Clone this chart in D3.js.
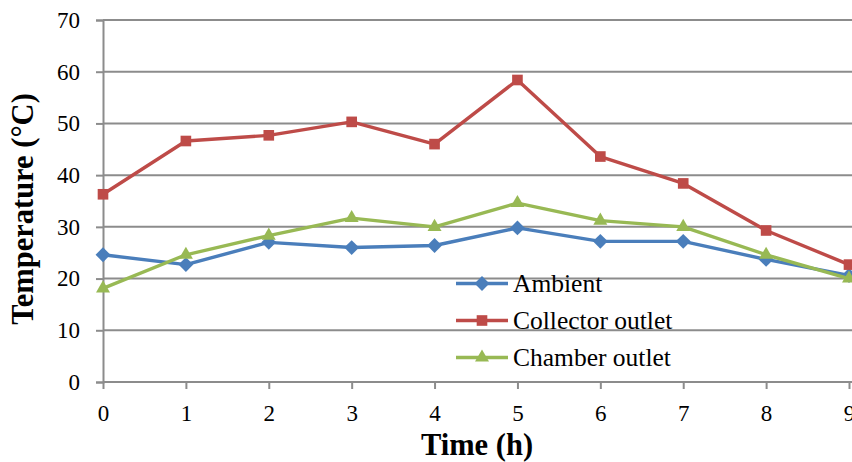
<!DOCTYPE html>
<html>
<head>
<meta charset="utf-8">
<script src="https://cdn.jsdelivr.net/npm/d3@7"></script>
<style>
  html, body { margin: 0; padding: 0; background: #fff; }
  svg { display: block; }
  text { font-family: "Liberation Serif", "Times New Roman", serif; fill: #000; }
</style>
</head>
<body>
<svg id="chart" width="852" height="462"></svg>
<script>
// Hourly temperatures (°C)
const hours = [0, 1, 2, 3, 4, 5, 6, 7, 8, 9];
const ambient = [24.6, 22.7, 27.0, 26.0, 26.4, 29.8, 27.2, 27.2, 23.7, 20.6];
const collectorOutlet = [36.3, 46.6, 47.7, 50.3, 46.0, 58.4, 43.6, 38.4, 29.3, 22.7];
const chamberOutlet = [18.1, 24.6, 28.3, 31.7, 30.0, 34.6, 31.2, 30.0, 24.6, 20.0];
const yTicks = [0, 10, 20, 30, 40, 50, 60, 70];
const seriesNames = ["Ambient", "Collector outlet", "Chamber outlet"];

const series = [
  { name: seriesNames[0], values: ambient, color: "#4a7ebb", symbol: d3.symbolDiamond2, size: 140 },
  { name: seriesNames[1], values: collectorOutlet, color: "#be4b48", symbol: d3.symbolSquare2, size: 144 },
  { name: seriesNames[2], values: chamberOutlet, color: "#98b954", symbol: d3.symbolTriangle2, size: 140 }
];

const svg = d3.select("#chart");
const plotLeft = 103, plotRight = 849, plotTop = 20, plotBottom = 382;

const x = d3.scaleLinear().domain([0, 9]).range([plotLeft, plotRight]);
const y = d3.scaleLinear().domain([0, 70]).range([plotBottom, plotTop]);

// Horizontal gridlines
svg.append("g")
  .selectAll("line")
  .data(yTicks.filter(t => t > 0))
  .join("line")
  .attr("x1", plotLeft).attr("x2", 852)
  .attr("y1", d => y(d)).attr("y2", d => y(d))
  .attr("stroke", "#8c8c8c").attr("stroke-width", 2);

// Y axis
const yAxis = svg.append("g")
  .attr("transform", `translate(${plotLeft},0)`)
  .call(d3.axisLeft(y).tickValues(yTicks).tickSize(7).tickPadding(16).tickFormat(d3.format("d")));
yAxis.select(".domain").attr("stroke", "#8c8c8c").attr("stroke-width", 2);
yAxis.selectAll(".tick line").attr("stroke", "#8c8c8c").attr("stroke-width", 2);
yAxis.selectAll(".tick text").attr("font-size", 23).attr("font-family", "Liberation Serif").attr("fill", "#000");

// X axis
const xAxis = svg.append("g")
  .attr("transform", `translate(0,${plotBottom})`)
  .call(d3.axisBottom(x).tickValues(hours).tickSize(7).tickPadding(16).tickFormat(d3.format("d")));
xAxis.select(".domain").attr("stroke", "#8c8c8c").attr("stroke-width", 2)
  .attr("d", `M${plotLeft},0H852`);
xAxis.selectAll(".tick line").attr("stroke", "#8c8c8c").attr("stroke-width", 2);
xAxis.selectAll(".tick text").attr("font-size", 23).attr("font-family", "Liberation Serif").attr("fill", "#000");

// Series lines and markers
const line = d3.line().x((d, i) => x(hours[i])).y(d => y(d));
series.forEach(s => {
  svg.append("path")
    .attr("d", line(s.values))
    .attr("fill", "none")
    .attr("stroke", s.color)
    .attr("stroke-width", 3.4)
    .attr("stroke-linejoin", "round");
  svg.append("g")
    .selectAll("path")
    .data(s.values)
    .join("path")
    .attr("transform", (d, i) => `translate(${x(hours[i])},${y(d)})`)
    .attr("d", d3.symbol().type(s.symbol).size(s.size))
    .attr("fill", s.color);
});

// Legend
const legend = svg.append("g").attr("transform", "translate(456,283.5)");
series.forEach((s, i) => {
  const row = legend.append("g").attr("transform", `translate(0,${i * 37})`);
  row.append("line")
    .attr("x1", 0).attr("x2", 52).attr("y1", 0).attr("y2", 0)
    .attr("stroke", s.color).attr("stroke-width", 3.4);
  row.append("path")
    .attr("transform", "translate(26,0)")
    .attr("d", d3.symbol().type(s.symbol).size(s.size))
    .attr("fill", s.color);
  row.append("text")
    .attr("x", 57).attr("y", 8.5)
    .attr("font-size", 25.5)
    .text(s.name);
});

// Axis titles
svg.append("text")
  .attr("transform", "translate(33,209) rotate(-90)")
  .attr("text-anchor", "middle")
  .attr("font-size", 30.5).attr("font-weight", "bold")
  .text("Temperature (°C)");

svg.append("text")
  .attr("x", 477).attr("y", 455)
  .attr("text-anchor", "middle")
  .attr("font-size", 30.5).attr("font-weight", "bold")
  .text("Time (h)");
</script>
</body>
</html>
